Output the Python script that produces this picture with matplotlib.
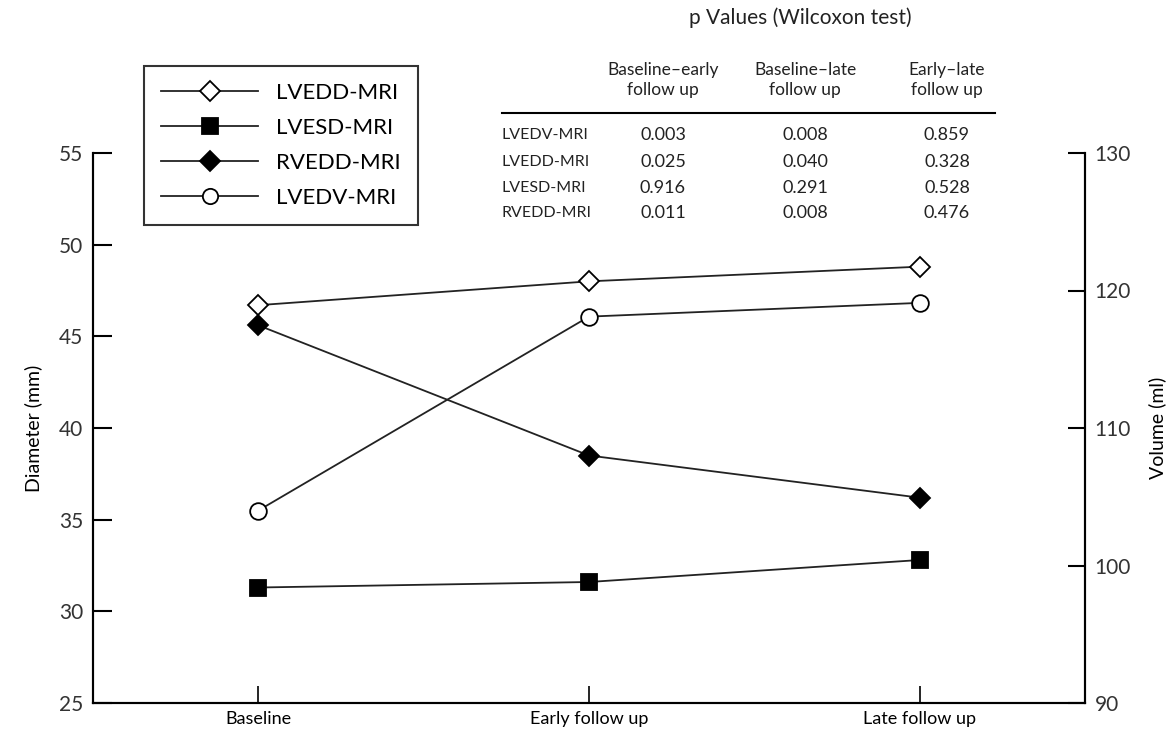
import matplotlib.pyplot as plt
from matplotlib.lines import Line2D

# data
stages = ["Baseline", "Early follow up", "Late follow up"]
lvedd = [46.7, 48.0, 48.8]      # mm, left axis
lvesd = [31.3, 31.6, 32.8]      # mm, left axis
rvedd = [45.6, 38.5, 36.2]      # mm, left axis
lvedv = [104.0, 118.1, 119.1]   # ml, right axis

# p values table
p_cols = ["Baseline\u2013early\nfollow up", "Baseline\u2013late\nfollow up", "Early\u2013late\nfollow up"]
p_rows = ["LVEDV-MRI", "LVEDD-MRI", "LVESD-MRI", "RVEDD-MRI"]
p_vals = [
    ["0.003", "0.008", "0.859"],
    ["0.025", "0.040", "0.328"],
    ["0.916", "0.291", "0.528"],
    ["0.011", "0.008", "0.476"],
]

plt.rcParams["font.family"] = ["Lato", "DejaVu Sans"]
W, H = 1176, 733
fig = plt.figure(figsize=(W / 100, H / 100), dpi=100)


def fx(px):
    return px / W


def fy(py):
    return 1 - py / H


ax = fig.add_axes([fx(93), fy(703), fx(1085) - fx(93), fy(153) - fy(703)])
ax2 = ax.twinx()

x = list(range(len(stages)))
lc = "#222222"
kw = dict(color=lc, lw=1.3, markeredgecolor="black", markeredgewidth=1.3)
ax.plot(x, lvedd, marker="D", ms=10, markerfacecolor="white", **kw)
ax.plot(x, lvesd, marker="s", ms=12, markerfacecolor="black", **kw)
ax.plot(x, rvedd, marker="D", ms=10, markerfacecolor="black", **kw)
ax2.plot(x, lvedv, marker="o", ms=12, markerfacecolor="white", **kw)

ax.set_xlim(-0.5, 2.5)
ax.set_ylim(25, 55)
ax.set_yticks([25, 30, 35, 40, 45, 50, 55])
ax2.set_ylim(90, 130)
ax2.set_yticks([90, 100, 110, 120, 130])
ax.set_xticks(x)
ax.set_xticklabels(stages, fontsize=13)

for a in (ax, ax2):
    a.spines["top"].set_visible(False)
    for s in ("left", "right", "bottom"):
        a.spines[s].set_linewidth(1.5)
ax.tick_params(axis="y", direction="in", length=14, width=1.5, pad=7, labelsize=15, labelcolor="#333333")
ax.tick_params(axis="x", direction="in", length=12, width=1.2, pad=6, labelsize=13)
ax2.tick_params(axis="y", direction="in", length=12, width=1.5, pad=7, labelsize=15, labelcolor="#333333")
ax.set_ylabel("Diameter (mm)", fontsize=14, labelpad=12)
ax2.set_ylabel("Volume (ml)", fontsize=14, labelpad=12)

# legend
handles = [
    Line2D([], [], marker="D", ms=10, markerfacecolor="white", **kw),
    Line2D([], [], marker="s", ms=11, markerfacecolor="black", **kw),
    Line2D([], [], marker="D", ms=10, markerfacecolor="black", **kw),
    Line2D([], [], marker="o", ms=11, markerfacecolor="white", **kw),
]
leg = fig.legend(handles, ["LVEDD-MRI", "LVESD-MRI", "RVEDD-MRI", "LVEDV-MRI"],
                 loc="upper left", bbox_to_anchor=(fx(144), fy(66)),
                 fontsize=16, frameon=True, fancybox=False, handlelength=4.4,
                 labelspacing=0.68, borderpad=0.75, handletextpad=0.8, borderaxespad=0)
leg.get_frame().set_edgecolor("black")
leg.get_frame().set_linewidth(1.5)

# p value table
fig.text(fx(800), fy(18), "p Values (Wilcoxon test)", fontsize=15, ha="center", va="center", color="#222222")
col_x = [663, 805, 947]
for cx, name in zip(col_x, p_cols):
    fig.text(fx(cx), fy(80), name, fontsize=12.5, ha="center", va="center", linespacing=1.25, color="#222222")
fig.add_artist(Line2D([fx(502), fx(995)], [fy(113), fy(113)], color="black", lw=1.5))
row_y = [135, 162, 188, 213]
for ry, rname, vals in zip(row_y, p_rows, p_vals):
    fig.text(fx(502), fy(ry), rname, fontsize=11.5, ha="left", va="center", color="#222222")
    for cx, v in zip(col_x, vals):
        fig.text(fx(cx), fy(ry), v, fontsize=13, ha="center", va="center", color="#222222")

fig.savefig("out.png", dpi=100)
